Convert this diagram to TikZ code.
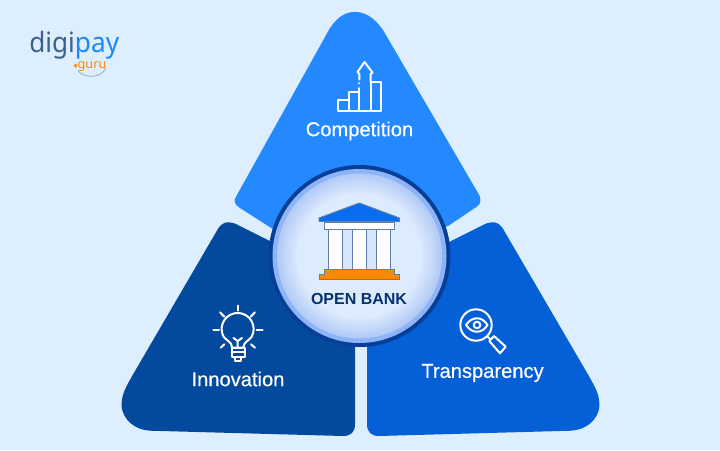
\documentclass[tikz,border=0pt]{standalone}
\usepackage{fontspec}
\usepackage{graphicx}
\setmainfont{Open Sans}
\newfontfamily\labfont[FakeBold=0.4]{Liberation Sans}
\newfontfamily\bankfont{Liberation Sans}
\newfontfamily\logofont{Noto Sans}
\definecolor{bgc}{HTML}{DDEFFF}
\definecolor{topc}{HTML}{2488FF}
\definecolor{leftc}{HTML}{034A9F}
\definecolor{rightc}{HTML}{0560D8}
\definecolor{ringc}{HTML}{063F94}
\definecolor{navy}{HTML}{06306F}
\definecolor{orangec}{HTML}{FF8A00}
\definecolor{roofc}{HTML}{0A6CF0}
\definecolor{logod}{HTML}{3F5F8C}
\definecolor{logob}{HTML}{1E88F5}
\definecolor{edgec}{HTML}{5F7FA8}
\definecolor{discin}{HTML}{DDEBFF}
\definecolor{discmid}{HTML}{B4CBF5}
\definecolor{discout}{HTML}{8DB4F8}
\tikzset{
 lbl/.style={text=white,font=\labfont\fontsize{15.1}{17}\selectfont,inner sep=0pt,anchor=center},
 ico/.style={draw=white,line width=1.5pt,line join=round,line cap=round},
 col/.style={fill=white,draw=edgec,line width=0.7pt},
}
\begin{document}
\begin{tikzpicture}[x=0.75pt,y=-0.75pt]
\useasboundingbox (0,0) rectangle (720,450);
\fill[bgc] (0,0) rectangle (720,450);
% petals
\fill[topc] (330,28) .. controls (339,15) and (347,12) .. (355,12) .. controls (364,12) and (373,16) .. (383,30) -- (478,193) .. controls (482,199) and (481,204) .. (476.7,206.7) -- (448,226) -- (360,256) -- (272,228.5) -- (240,208) .. controls (235,205) and (233,201) .. (236,196.7) -- cycle;
\fill[leftc] (218.3,228.3) .. controls (221,224) and (225,222) .. (229,222.3) .. controls (232,222.3) and (235,223.5) .. (237,224.5) -- (300,256) -- (355,300) -- (355,424) .. controls (355,432) and (351,436) .. (343,436) -- (150,430.7) .. controls (128,429) and (120,412) .. (121.7,402) .. controls (122.5,393) and (126,387) .. (131.7,376.7) -- cycle;
\fill[rightc] (502.7,228.3) .. controls (500,224) and (496,222) .. (492,222.3) .. controls (489,222.3) and (486,223.5) .. (484,224.5) -- (421,256) -- (367,300) -- (367,424) .. controls (367,432) and (371,436) .. (379,436) -- (571,430.7) .. controls (593,429) and (601,412) .. (599.3,402) .. controls (598.5,393) and (595,387) .. (589.3,376.7) -- cycle;
% centre disc
\node[circle,minimum size=136.5pt,inner sep=0pt,fill=ringc] (ring) at (359.5,256) {};
\fill[discout] (ring.center) circle (87);
\foreach \r/\m in {82.5/0,80.5/10,78.5/20,76.5/30,74.5/40,72.5/50,70.5/60,68.5/70,66.5/80,64.5/90,62.5/100}{
  \fill[discin!\m!discmid] (ring.center) circle (\r);
}
% bank
\fill[discin!85!discmid] (329,229) rectangle (390,270);
\draw[col] (328.5,229) rectangle (342.5,269.5);
\draw[col] (352.5,229) rectangle (366.5,269.5);
\draw[col] (376,229) rectangle (390,269.5);
\draw[col] (324.5,222) rectangle (394.5,229);
\filldraw[fill=roofc,draw=edgec,line width=0.7pt,line join=round] (319,218) -- (319,221.5) -- (399.5,221.5) -- (399.5,218) -- (359.3,203) -- cycle;
\filldraw[fill=orangec,draw=edgec,line width=0.7pt] (324.5,269.5) -- (394.5,269.5) -- (394.5,274) -- (399.5,274) -- (399.5,279) -- (319.5,279) -- (319.5,274) -- (324.5,274) -- cycle;
\node[inner sep=0pt,text=navy,font=\bankfont\bfseries\fontsize{12}{14}\selectfont] (bank) at (359,299) {OPEN BANK};
% labels
\node[lbl] (comp) at (359.5,131) {Competition};
\node[lbl] (inno) at (238,379) {Innovation};
\node[lbl] (tran) at (482.5,373) {Transparency};
% chart icon
\draw[ico] (337.5,111) rectangle (348.5,99.5);
\draw[ico] (348.5,111) rectangle (359,92);
\draw[ico] (370.5,111) rectangle (381,82);
\draw[ico] (359,111) -- (370.5,111);
\draw[ico] (359,88) -- (359,111);
\draw[ico] (359.3,83.2) -- (359.3,83.4);
\draw[ico] (370.5,82) -- (370.5,74) -- (372.5,72.5) -- (364.5,62) -- (357.5,72) -- (359.3,74) -- (359.3,79.5);
% bulb icon
\draw[ico] (232,347.5) .. controls (232,342) and (227,341) .. (223.8,337) arc[start angle=150,end angle=390,radius=16] .. controls (248.5,341) and (243.5,342) .. (243.5,347.5) -- cycle;
\draw[ico] (231.5,347.5) rectangle (244.5,357);
\draw[ico] (235,357) rectangle (241,361);
\draw[ico] (231.5,352) -- (244.5,352);
\draw[ico] (237.7,347) -- (237.7,341) (233.5,338) -- (237.7,341) -- (242,338);
\draw[ico] (238,305.5) -- (238,310.7);
\draw[ico] (220,312.3) -- (224.3,316.7);
\draw[ico] (255,312.3) -- (250.7,316.7);
\draw[ico] (213.3,330) -- (219,330);
\draw[ico] (256.7,330) -- (262.7,330);
\draw[ico] (220.7,347.7) -- (224.3,344.3);
\draw[ico] (255,347.7) -- (251,344.3);
% magnifier icon
\draw[ico] (476,325) circle (15.7);
\draw[ico] (466,325) .. controls (472,316) and (482,316) .. (487.5,325) .. controls (482,334) and (472,334) .. (466,325) -- cycle;
\draw[ico] (477,325) circle (3.3);
\draw[ico] (487.7,336.7) -- (490.5,339.5);
\draw[ico] (489.3,341) -- (494,336) -- (505.7,346.7) -- (500,353.3) -- cycle;
% logo
\node[anchor=base west,inner sep=0pt,font=\logofont\fontsize{21}{24}\selectfont] (logo) at (29,52) {\scalebox{0.935}[1]{\textcolor{logod}{digi}\textcolor{logob}{pay}}};
\node[anchor=base west,inner sep=0pt,text=orangec,font=\logofont\fontsize{9.5}{12}\selectfont] (guru) at (74,68) {.guru};
\fill[orangec] (75.5,65.5) circle (1.8);
\draw[logod!60,line width=0.5pt] (78,71) .. controls (84,78) and (101,79) .. (106,68);
\end{tikzpicture}
\end{document}
